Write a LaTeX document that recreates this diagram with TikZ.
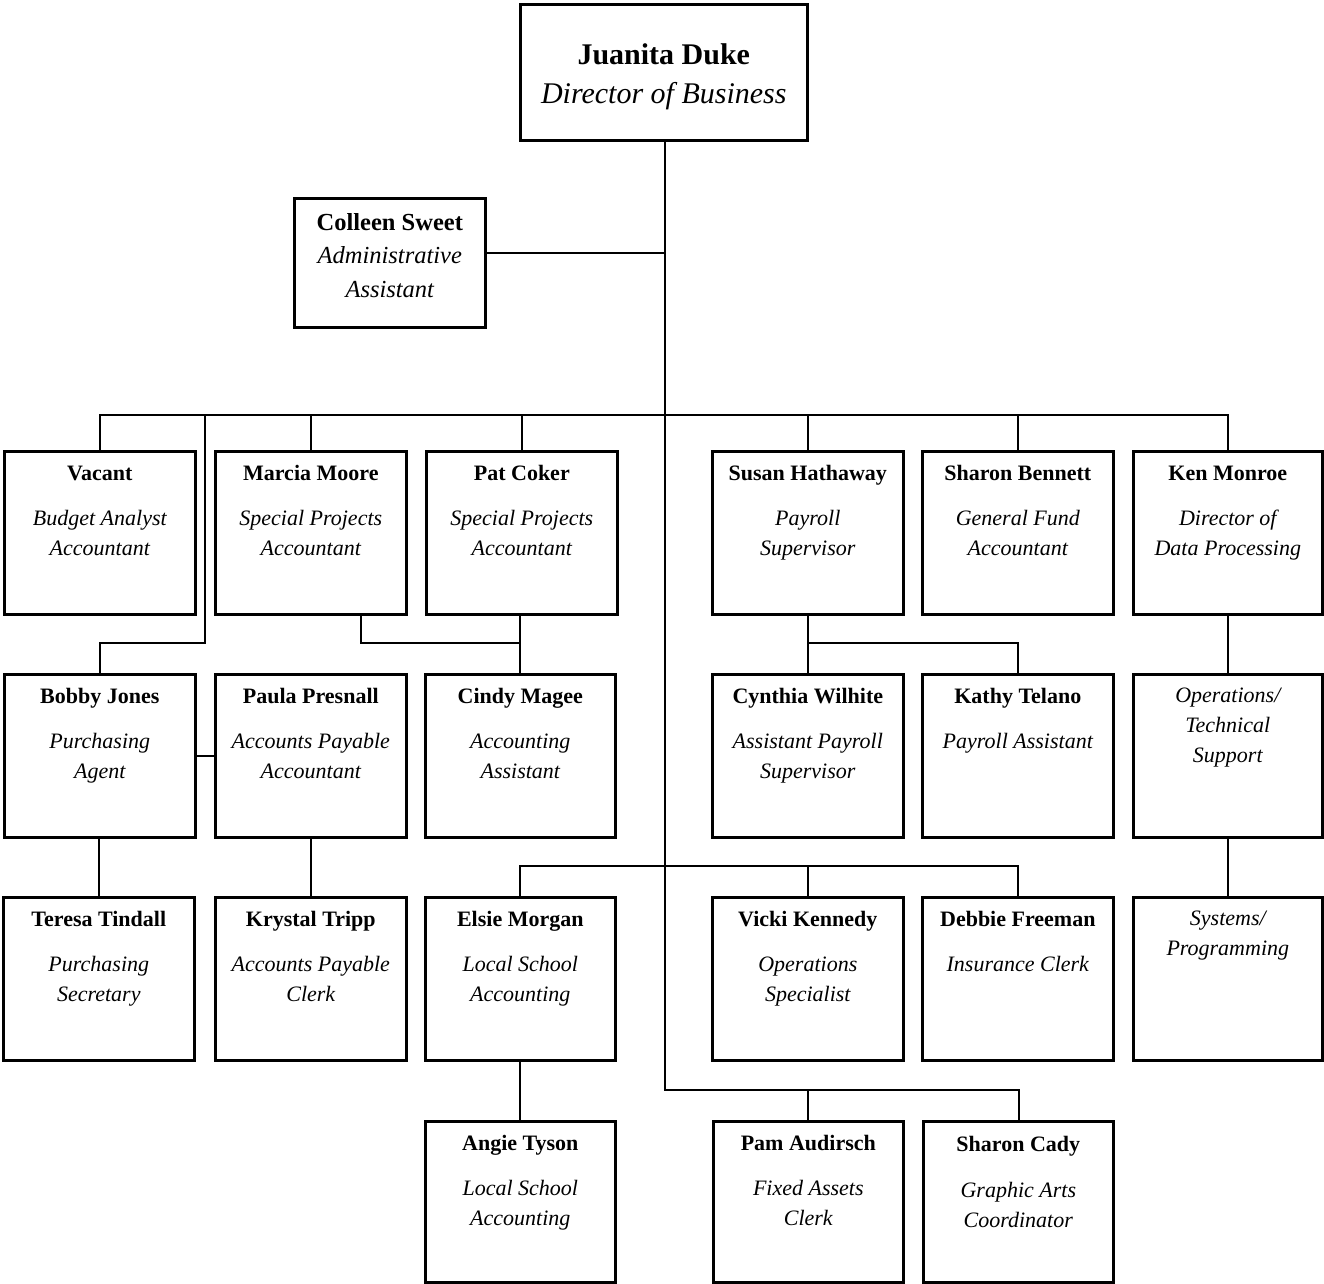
\documentclass[tikz,border=0pt]{standalone}
\usepackage{fontspec}
\setmainfont{Liberation Serif}
\begin{document}
\begin{tikzpicture}[x=1pt,y=-1pt,
  box/.style={draw,line width=2.6pt,rectangle,anchor=north west,inner sep=0pt,minimum width=191pt,minimum height=163pt},
  nm/.style={anchor=base,inner sep=0pt,font=\fontsize{22}{26}\selectfont\bfseries},
  ti/.style={anchor=base,inner sep=0pt,font=\fontsize{22}{26}\selectfont\itshape},
  bignm/.style={anchor=base,inner sep=0pt,font=\fontsize{30}{34}\selectfont\bfseries},
  bigti/.style={anchor=base,inner sep=0pt,font=\fontsize{30}{34}\selectfont\itshape},
  midnm/.style={anchor=base,inner sep=0pt,font=\fontsize{24.5}{28}\selectfont\bfseries},
  midti/.style={anchor=base,inner sep=0pt,font=\fontsize{24.5}{28}\selectfont\itshape},
  conn/.style={line width=1.8pt}]
\useasboundingbox (0,0) rectangle (1324,1283);
\fill[white] (0,0) rectangle (1324,1283);

% top boxes
\node[box,minimum width=287pt,minimum height=136pt] (juanita) at (519,3) {};
\node[bignm] at ([yshift=-61pt]juanita.north) {Juanita Duke};
\node[bigti] at ([yshift=-100pt]juanita.north) {Director of Business};

\node[box,minimum width=191pt,minimum height=129pt] (colleen) at (293,197) {};
\node[midnm] at ([yshift=-33pt]colleen.north) {Colleen Sweet};
\node[midti] at ([yshift=-66pt]colleen.north) {Administrative};
\node[midti] at ([yshift=-100pt]colleen.north) {Assistant};

% row 1
\node[box] (vacant) at (3,450) {};
\node[nm] at ([yshift=-30pt]vacant.north) {Vacant};
\node[ti] at ([yshift=-75pt]vacant.north) {Budget Analyst};
\node[ti] at ([yshift=-105pt]vacant.north) {Accountant};

\node[box] (marcia) at (214,450) {};
\node[nm] at ([yshift=-30pt]marcia.north) {Marcia Moore};
\node[ti] at ([yshift=-75pt]marcia.north) {Special Projects};
\node[ti] at ([yshift=-105pt]marcia.north) {Accountant};

\node[box] (pat) at (425,450) {};
\node[nm] at ([yshift=-30pt]pat.north) {Pat Coker};
\node[ti] at ([yshift=-75pt]pat.north) {Special Projects};
\node[ti] at ([yshift=-105pt]pat.north) {Accountant};

\node[box] (susan) at (711,450) {};
\node[nm] at ([yshift=-30pt]susan.north) {Susan Hathaway};
\node[ti] at ([yshift=-75pt]susan.north) {Payroll};
\node[ti] at ([yshift=-105pt]susan.north) {Supervisor};

\node[box] (sharonb) at (921,450) {};
\node[nm] at ([yshift=-30pt]sharonb.north) {Sharon Bennett};
\node[ti] at ([yshift=-75pt]sharonb.north) {General Fund};
\node[ti] at ([yshift=-105pt]sharonb.north) {Accountant};

\node[box,minimum width=189pt] (ken) at (1132,450) {};
\node[nm] at ([yshift=-30pt]ken.north) {Ken Monroe};
\node[ti] at ([yshift=-75pt]ken.north) {Director of};
\node[ti] at ([yshift=-105pt]ken.north) {Data Processing};

% row 2
\node[box] (bobby) at (3,673) {};
\node[nm] at ([yshift=-30pt]bobby.north) {Bobby Jones};
\node[ti] at ([yshift=-75pt]bobby.north) {Purchasing};
\node[ti] at ([yshift=-105pt]bobby.north) {Agent};

\node[box] (paula) at (214,673) {};
\node[nm] at ([yshift=-30pt]paula.north) {Paula Presnall};
\node[ti] at ([yshift=-75pt]paula.north) {Accounts Payable};
\node[ti] at ([yshift=-105pt]paula.north) {Accountant};

\node[box,minimum width=190pt] (cindy) at (424,673) {};
\node[nm] at ([yshift=-30pt]cindy.north) {Cindy Magee};
\node[ti] at ([yshift=-75pt]cindy.north) {Accounting};
\node[ti] at ([yshift=-105pt]cindy.north) {Assistant};

\node[box] (cynthia) at (711,673) {};
\node[nm] at ([yshift=-30pt]cynthia.north) {Cynthia Wilhite};
\node[ti] at ([yshift=-75pt]cynthia.north) {Assistant Payroll};
\node[ti] at ([yshift=-105pt]cynthia.north) {Supervisor};

\node[box] (kathy) at (921,673) {};
\node[nm] at ([yshift=-30pt]kathy.north) {Kathy Telano};
\node[ti] at ([yshift=-75pt]kathy.north) {Payroll Assistant};

\node[box,minimum width=189pt] (ops) at (1132,673) {};
\node[ti] at ([yshift=-29pt]ops.north) {Operations/};
\node[ti] at ([yshift=-59pt]ops.north) {Technical};
\node[ti] at ([yshift=-89pt]ops.north) {Support};

% row 3
\node[box] (teresa) at (2,896) {};
\node[nm] at ([yshift=-30pt]teresa.north) {Teresa Tindall};
\node[ti] at ([yshift=-75pt]teresa.north) {Purchasing};
\node[ti] at ([yshift=-105pt]teresa.north) {Secretary};

\node[box] (krystal) at (214,896) {};
\node[nm] at ([yshift=-30pt]krystal.north) {Krystal Tripp};
\node[ti] at ([yshift=-75pt]krystal.north) {Accounts Payable};
\node[ti] at ([yshift=-105pt]krystal.north) {Clerk};

\node[box,minimum width=190pt] (elsie) at (424,896) {};
\node[nm] at ([yshift=-30pt]elsie.north) {Elsie Morgan};
\node[ti] at ([yshift=-75pt]elsie.north) {Local School};
\node[ti] at ([yshift=-105pt]elsie.north) {Accounting};

\node[box] (vicki) at (711,896) {};
\node[nm] at ([yshift=-30pt]vicki.north) {Vicki Kennedy};
\node[ti] at ([yshift=-75pt]vicki.north) {Operations};
\node[ti] at ([yshift=-105pt]vicki.north) {Specialist};

\node[box] (debbie) at (921,896) {};
\node[nm] at ([yshift=-30pt]debbie.north) {Debbie Freeman};
\node[ti] at ([yshift=-75pt]debbie.north) {Insurance Clerk};

\node[box,minimum width=189pt] (systems) at (1132,896) {};
\node[ti] at ([yshift=-29pt]systems.north) {Systems/};
\node[ti] at ([yshift=-59pt]systems.north) {Programming};

% row 4
\node[box,minimum width=190pt,minimum height=161pt] (angie) at (424,1120) {};
\node[nm] at ([yshift=-30pt]angie.north) {Angie Tyson};
\node[ti] at ([yshift=-75pt]angie.north) {Local School};
\node[ti] at ([yshift=-105pt]angie.north) {Accounting};

\node[box,minimum width=190pt,minimum height=161pt] (pam) at (712,1120) {};
\node[nm] at ([yshift=-30pt]pam.north) {Pam Audirsch};
\node[ti] at ([yshift=-75pt]pam.north) {Fixed Assets};
\node[ti] at ([yshift=-105pt]pam.north) {Clerk};

\node[box,minimum width=190pt,minimum height=161pt] (sharonc) at (922,1120) {};
\node[nm] at ([yshift=-31pt]sharonc.north) {Sharon Cady};
\node[ti] at ([yshift=-77pt]sharonc.north) {Graphic Arts};
\node[ti] at ([yshift=-107pt]sharonc.north) {Coordinator};

% coordinates
\coordinate (hub1) at (665,415);
\coordinate (hub2) at (665,866);
\coordinate (hub3) at (665,1090);
\coordinate (cc) at (665,253);
\coordinate (bk) at (205,643);
\coordinate (mp) at (361,643);
\coordinate (sk) at (808,643);

% connectors
\draw[conn] (hub1 |- juanita.south) -- (hub3) -| ([xshift=1pt]sharonc.north);
\draw[conn] (cc) -- (cc -| colleen.east);
\draw[conn] (vacant.north) |- (hub1) -| (ken.north);
\draw[conn] (marcia.north) -- (marcia.north |- hub1);
\draw[conn] (pat.north) -- (pat.north |- hub1);
\draw[conn] (sk |- susan.north) -- (sk |- hub1);
\draw[conn] (sharonb.north) -- (sharonb.north |- hub1);
\draw[conn] (bobby.north) |- (bk) -- (bk |- hub1);
\draw[conn] (bobby.east) -- (paula.west);
\draw[conn] (mp |- marcia.south) -- (mp) -| (cindy.north);
\draw[conn] (cindy.north) -- (cindy.north |- pat.south);
\draw[conn] (sk |- susan.south) -- (sk |- cynthia.north);
\draw[conn] (sk) -| (kathy.north);
\draw[conn] (ken.south) -- (ops.north);
\draw[conn] (ops.south) -- (systems.north);
\draw[conn] (bobby.south -| teresa.north) -- (teresa.north);
\draw[conn] (paula.south) -- (paula.south |- krystal.north);
\draw[conn] (elsie.north) |- (hub2) -| (debbie.north);
\draw[conn] (sk |- vicki.north) -- (sk |- hub2);
\draw[conn] (elsie.south) -- (angie.north);
\draw[conn] (sk |- pam.north) -- (sk |- hub3);
\end{tikzpicture}
\end{document}
